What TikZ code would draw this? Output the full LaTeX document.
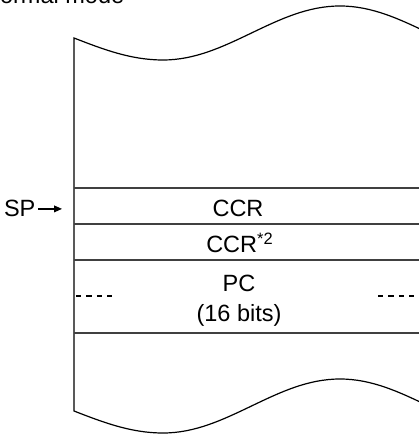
\documentclass[tikz,border=0pt]{standalone}
\usepackage{fontspec}
\setmainfont{Liberation Sans}
\usetikzlibrary{positioning,arrows.meta}

\begin{document}
\begin{tikzpicture}[x=0.5bp,y=-0.5bp,line width=0.6bp,
                    >={Triangle[length=4bp,width=3.4bp]}]
  \tikzstyle{every node}=[font=\fontsize{11.8}{14}\selectfont,text=black,inner sep=0pt]
  \tikzstyle{sep}=[draw=black!75]
  \tikzstyle{cut}=[dash pattern=on 2.6bp off 2.6bp]

  \useasboundingbox (0,0) rectangle (419,435);
  \clip (0,0) rectangle (419,435);

  \node[anchor=base west] (title) at (-17.5,4) {Normal mode};

  % torn stack outline
  \draw (428.5,33) sin (340,6) cos (251.5,33) sin (163,60) cos (74,38)
        -- (74,411) sin (163,433) cos (251.5,406) sin (340,379) cos (428.5,406);

  \foreach \y in {188,224,260,333}
    \draw[sep] (74,\y) -- (419,\y);
  \draw[cut] (76,296) -- (114,296);
  \draw[cut] (378,296) -- (419,296);

  \node[anchor=base] (ccr)  at (238,217) {CCR};
  \node[anchor=base] (ccrb) at (240,253) {CCR\textsuperscript{*2}};
  \node[anchor=base] (pc)   at (239,291) {PC};
  \node[anchor=base] (bits) at (239,321) {(16 bits)};

  \node[anchor=base east] (sp) at (36,217) {SP};
  \coordinate [right=13bp of sp.east] (sptip);
  \draw[->,shorten <=1bp] (sp.east) -- (sptip);
\end{tikzpicture}
\end{document}
